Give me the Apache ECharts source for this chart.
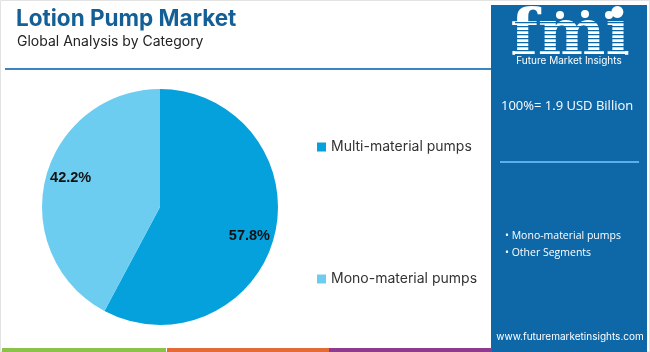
<!DOCTYPE html>
<html>
<head>
<meta charset="utf-8">
<script src="https://cdn.jsdelivr.net/npm/echarts@6/dist/echarts.min.js"></script>
<style>
  html, body { margin: 0; padding: 0; background: #fff; }
  #chart { width: 650px; height: 352px; }
</style>
</head>
<body>
<div id="chart"></div>
<script>
// data
const categories = ["Multi-material pumps", "Mono-material pumps"];
const shares = [57.8, 42.2];
const colors = ["#05a1dc", "#6ccdf1"];
const sideSegments = ["Mono-material pumps", "Other Segments"];

const chart = echarts.init(document.getElementById("chart"));
const pieData = categories.map((name, i) => ({ name: name, value: shares[i], itemStyle: { color: colors[i] } }));
const panelColor = "#0e68a8";

// stripes over the logo
let stripes = [];
for (let y = 22; y < 56; y += 4) {
  stripes.push({ type: "rect", shape: { x: 515, y: y, width: 110, height: 1.2 }, style: { fill: panelColor }, z: 12 });
}

let option = {
  animation: false,
  title: [
    {
      text: "Lotion Pump Market",
      left: 11, top: 3,
      textStyle: { fontFamily: "Inter", fontSize: 22.5, fontWeight: "bold", color: "#145f96" }
    },
    {
      text: "Global Analysis by Category",
      left: 12, top: 30,
      textStyle: { fontFamily: "Inter", fontSize: 14, fontWeight: "normal", color: "#222" }
    }
  ],
  legend: [
    {
      data: [categories[0]],
      left: 312, top: 135,
      itemWidth: 9, itemHeight: 9, icon: "rect",
      textStyle: { fontFamily: "Inter", fontSize: 14, color: "#333" }
    },
    {
      data: [categories[1]],
      left: 312, top: 267,
      itemWidth: 9, itemHeight: 9, icon: "rect",
      textStyle: { fontFamily: "Inter", fontSize: 14, color: "#333" }
    }
  ],
  series: [
    {
      type: "pie",
      center: [160, 207],
      radius: [0, 118],
      startAngle: 90,
      clockwise: true,
      label: { show: false },
      labelLine: { show: false },
      emphasis: { disabled: true },
      data: pieData
    },
    {
      // transparent ring only to place labels further out
      type: "pie",
      center: [160, 207],
      radius: [64, 118],
      startAngle: 86,
      clockwise: true,
      silent: true,
      legendHoverLink: false,
      itemStyle: { color: "transparent" },
      label: {
        show: true, position: "inside",
        formatter: "{c}%",
        fontFamily: "Liberation Sans", fontSize: 14.5, fontWeight: "bold", color: "#111"
      },
      labelLine: { show: false },
      data: categories.map((name, i) => ({ name: name + " ", value: shares[i], itemStyle: { color: "transparent" } }))
    }
  ],
  graphic: [
    { type: "rect", shape: { x: 0.5, y: 0.5, width: 649, height: 351 }, style: { fill: "none", stroke: "#e2e2e2", lineWidth: 1 }, z: 0 },
    { type: "rect", shape: { x: 5, y: 68, width: 490, height: 2 }, style: { fill: "#3b84bf" }, z: 1 },
    { type: "rect", shape: { x: 491, y: 5, width: 156, height: 347 }, style: { fill: panelColor }, z: 5 },
    { type: "text", x: 570, y: 37, style: { text: "fmi", fill: "#fff", font: "bold 64px 'DejaVu Serif'", textAlign: "center", textVerticalAlign: "middle" }, z: 10 },
    ...stripes,
    { type: "circle", shape: { cx: 560, cy: 15, r: 4 }, style: { fill: "#fff" }, z: 13 },
    { type: "circle", shape: { cx: 585, cy: 14, r: 4 }, style: { fill: "#fff" }, z: 13 },
    { type: "circle", shape: { cx: 609, cy: 15, r: 4 }, style: { fill: "#fff" }, z: 13 },
    { type: "text", x: 569, y: 61, style: { text: "Future Market Insights", fill: "#fff", font: "10px 'Inter'", textAlign: "center", textVerticalAlign: "middle" }, z: 10 },
    { type: "text", x: 501, y: 106, style: { text: "100%= 1.9 USD Billion", fill: "#fff", font: "13px 'Open Sans'", textAlign: "left", textVerticalAlign: "middle" }, z: 10 },
    { type: "rect", shape: { x: 500, y: 161, width: 139, height: 2 }, style: { fill: "#5cb0e8" }, z: 10 },
    { type: "text", x: 505, y: 236, style: { text: "• " + sideSegments[0], fill: "#fff", font: "10.5px 'Open Sans'", textAlign: "left", textVerticalAlign: "middle" }, z: 10 },
    { type: "text", x: 505, y: 253, style: { text: "• " + sideSegments[1], fill: "#fff", font: "10.5px 'Open Sans'", textAlign: "left", textVerticalAlign: "middle" }, z: 10 },
    { type: "text", x: 570, y: 337, style: { text: "www.futuremarketinsights.com", fill: "#fff", font: "10px 'Inter'", textAlign: "center", textVerticalAlign: "middle" }, z: 10 },
    { type: "rect", shape: { x: 2, y: 348, width: 164, height: 4 }, style: { fill: "#8bc34a" }, z: 6 },
    { type: "rect", shape: { x: 167, y: 348, width: 162, height: 4 }, style: { fill: "#e26b36" }, z: 6 },
    { type: "rect", shape: { x: 329, y: 348, width: 163, height: 4 }, style: { fill: "#8d3a8f" }, z: 6 }
  ]
};

chart.setOption(option);
</script>
</body>
</html>
